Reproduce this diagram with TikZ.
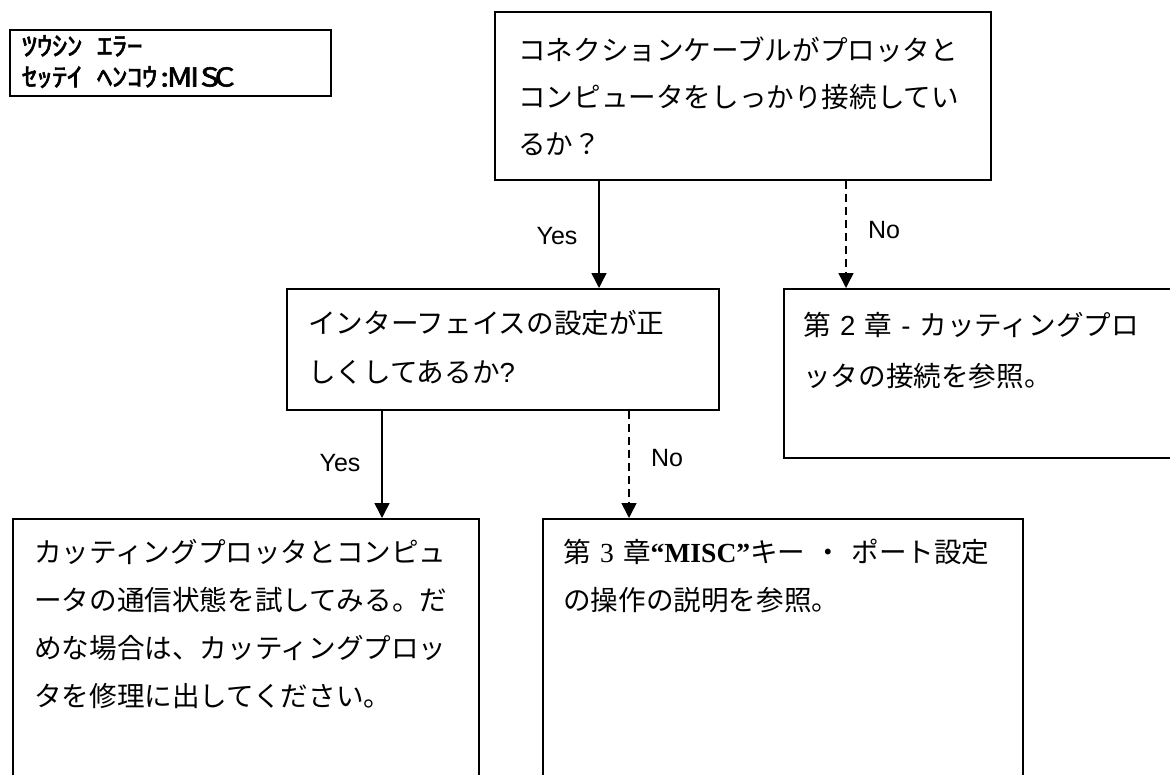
\documentclass[tikz,border=0pt]{standalone}
\usepackage{fontspec}
\usepackage{graphicx}
\setmainfont{Liberation Serif}
\newfontfamily\jp{Noto Sans CJK JP}
\newfontfamily\lcdfont[FakeBold=2]{Noto Sans CJK JP}
\newfontfamily\ar{Liberation Sans}
\newfontfamily\tm{Liberation Serif}
\usetikzlibrary{arrows.meta}
\newcommand\lc[1]{\makebox[15pt][c]{\scalebox{1.2}[1]{#1}}}
\tikzset{
  box/.style={draw, line width=1.8pt, anchor=north west, inner sep=0pt},
  txt/.style={anchor=base west, align=left, text width=600pt, inner sep=0pt, font=\jp\fontsize{27.6}{48}\selectfont},
  lcdtxt/.style={anchor=base west, align=left, text width=400pt, inner sep=0pt, font=\lcdfont\fontsize{26}{31}\selectfont},
  lbl/.style={font=\ar\fontsize{25}{30}\selectfont, inner sep=0pt},
  conn/.style={line width=1.5pt, -{Triangle[width=15pt,length=15pt]}},
  dconn/.style={conn, dash pattern=on 8pt off 5pt},
}
\begin{document}
\begin{tikzpicture}[x=1pt,y=-1pt]
\clip (0,0) rectangle (1170,774);
\fill[white] (0,0) rectangle (1170,774);
% LCD panel
\node[box, line width=1.5pt, minimum width=321pt, minimum height=66pt] (lcd) at (9,29) {};
\node[lcdtxt] (lcdt) at ([shift={(13,26.5)}]lcd.north west)
  {\lc{ﾂ}\lc{ｳ}\lc{ｼ}\lc{ﾝ}\lc{ }\lc{ｴ}\lc{ﾗ}\lc{ｰ}\\
   \lc{ｾ}\lc{ｯ}\lc{ﾃ}\lc{ｲ}\lc{ }\lc{ﾍ}\lc{ﾝ}\lc{ｺ}\lc{ｳ}\lc{:}\lc{M}\lc{I}\lc{S}\lc{C}};
% boxes
\node[box, minimum width=496pt, minimum height=168pt] (q1) at (494,11) {};
\node[txt, font=\jp\fontsize{27.6}{47}\selectfont] (q1t) at ([shift={(24,49.5)}]q1.north west)
  {コネクションケーブルがプロッタと\\コンピュータをしっかり接続してい\\るか？};
\node[box, minimum width=432pt, minimum height=121pt] (q2) at (286,288) {};
\node[txt, font=\jp\fontsize{27.6}{49}\selectfont] (q2t) at ([shift={(22,45.5)}]q2.north west)
  {インターフェイスの設定が正\\しくしてあるか{\ar ?}};
\node[box, minimum width=420pt, minimum height=169pt] (q3) at (783,288) {};
\node[txt, font=\jp\fontsize{27.6}{51}\selectfont] (q3t) at ([shift={(20,47.5)}]q3.north west)
  {第{\ar\ 2 }章 {\ar -} カッティングプロ\\ッタの接続を参照。};
\node[box, minimum width=466pt, minimum height=300pt] (q4) at (12,518) {};
\node[txt] (q4t) at ([shift={(22,44.5)}]q4.north west)
  {カッティングプロッタとコンピュ\\ータの通信状態を試してみる。だ\\めな場合は、カッティングプロッ\\タを修理に出してください。};
\node[box, minimum width=480pt, minimum height=300pt] (q5) at (542,518) {};
\node[txt] (q5t) at ([shift={(21,44.5)}]q5.north west)
  {第{\tm\ 3 }章{\tm\bfseries “MISC”}キー ・ ポート設定\\の操作の説明を参照。};
% connectors
\draw[conn] (q1.south -| 599,0) -- (q2.north -| 599,0);
\draw[dconn] (q1.south -| 846,0) -- (q3.north -| 846,0);
\draw[conn] (q2.south -| 382,0) -- (q4.north -| 382,0);
\draw[dconn] (q2.south -| 629,0) -- (q5.north -| 629,0);
% labels
\node[lbl] (y1) at (557,236) {Yes};
\node[lbl] (n1) at (884,230) {No};
\node[lbl] (y2) at (340,463) {Yes};
\node[lbl] (n2) at (667,458) {No};
\end{tikzpicture}
\end{document}
